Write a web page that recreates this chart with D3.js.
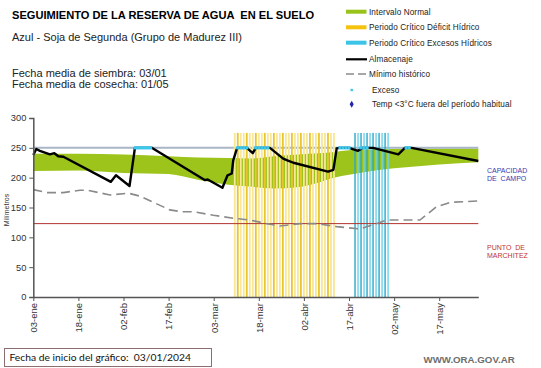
<!DOCTYPE html>
<html><head><meta charset="utf-8">
<script src="https://cdn.jsdelivr.net/npm/d3@7"></script>
<style>
body{margin:0;background:#fff;}
svg{display:block;font-family:"Liberation Sans",Arial,sans-serif;}
</style></head>
<body><svg id="c" width="541" height="368"></svg>
<script>
// ---- data (x = days since 03-ene-2024) ----
const xTickDays = [0,15,30,45,60,75,90,105,120,135];
const xTickLabels = ["03-ene","18-ene","02-feb","17-feb","03-mar","18-mar","02-abr","17-abr","02-may","17-may"];
const yTicks = [0,50,100,150,200,250,300];

const almDays = [0,1,2.2,5.5,7,8.3,10,25.8,27.5,32,33.8,39.4,57,58,62.9,64.6,66,66.5,67.6,68,71,73,74,78.7,83.1,84.5,86.5,98,99.8,100.9,101.8,105,108,109.7,113,121.4,123.6,125.8,148];
const almVals = [238,248,245,239,241,236,235,193,204,186,250,250,196,197,183,204,207,229,247,250,250,241,250,250,232,229,225,210,213,249,250,250,245,250,250,239,250,250,228];

const bandDays = [0,15,30,45,55,65,72,80,88,95,100,105,115,125,135,148];
const bandLow  = [211,212,208,206,196,188,185,182,184,192,200,205,213,218,222,226];
const bandHigh = [240,240,239,236,234,233,232,236,239,241,243,246,248,249,249,249];

const minDays = [0,4.5,10,15.5,18,25.5,31.6,35.5,45.4,49.3,53.2,59.9,66.5,72,77.6,82,88.7,94.2,100.9,108.6,113,117.5,128.6,134,138.6,148];
const minVals = [180,175,175,179,179,171,174,169,146,143,143,137,132,129,123,119,123,123,118,114,121,129,129,151,158.6,161];

const excessDays = [34,35,36,37,38,39,68,69,70,71,74,75,76,77,78,102,103,104,105,109,110,111,124,125];
const excessVals = [250,250,250,250,250,250,250,250,250,250,250,250,250,250,250,250,250,250,250,250,250,250,250,250];

const deficitDays = [67,68,69,70,71,72,73,74,75,76,77,78,79,80,81,82,83,84,85,86,87,88,89,90,91,92,93,94,95,96,97,98,99,100];
const deficitVals = [275,275,275,275,275,275,275,275,275,275,275,275,275,275,275,275,275,275,275,275,275,275,275,275,275,275,275,275,275,275,275,275,275,275];
const wetDays = [107,108,109,110,111,112,113,114,115,116,117,118];
const wetVals = [275,275,275,275,275,275,275,275,275,275,275,275];

const capacidad = 250;
const marchitez = 123;

const legendItems = ["Intervalo Normal","Periodo Crítico Déficit Hídrico","Periodo Crítico Excesos Hídricos","Almacenaje","Mínimo histórico","Exceso","Temp <3°C fuera del período habitual"];

// ---- drawing ----
const svg = d3.select("#c");
const x = d3.scaleLinear().domain([0,148]).range([33.3,478.3]);
const y = d3.scaleLinear().domain([0,300]).range([297,118]);

// green band
svg.append("path")
  .datum(bandDays.map((d,i)=>({d, lo:bandLow[i], hi:bandHigh[i]})))
  .attr("fill","#9cc41a")
  .attr("d", d3.area().x(p=>x(p.d)).y0(p=>y(p.lo)).y1(p=>y(p.hi)).curve(d3.curveMonotoneX));

// capacity line
svg.append("line").attr("x1",x(0)).attr("x2",x(148)).attr("y1",y(capacidad)).attr("y2",y(capacidad))
  .attr("stroke","#a9b6c6").attr("stroke-width",2);

// critical period stripes
svg.append("g").selectAll("rect").data(deficitDays).join("rect")
  .attr("x",(d)=>x(d)-0.9).attr("width",1.8)
  .attr("y",(d,i)=>y(deficitVals[i])).attr("height",(d,i)=>y(0)-y(deficitVals[i]))
  .attr("fill",(d,i)=> i%3===1 ? "#ebc52e" : "#f7e796");
svg.append("g").selectAll("rect").data(wetDays).join("rect")
  .attr("x",(d)=>x(d)-0.7).attr("width",1.4)
  .attr("y",(d,i)=>y(wetVals[i])).attr("height",(d,i)=>y(0)-y(wetVals[i]))
  .attr("fill",(d,i)=> i%2===0 ? "#27aacb" : "#6fd2ea");

// wilting point line
svg.append("line").attr("x1",x(0)).attr("x2",x(148)).attr("y1",y(marchitez)).attr("y2",y(marchitez))
  .attr("stroke","#b0332e").attr("stroke-width",1);

// minimum historic dashed
svg.append("path").datum(minDays.map((d,i)=>[d,minVals[i]]))
  .attr("fill","none").attr("stroke","#8a8a8a").attr("stroke-width",1.6).attr("stroke-dasharray","9,5")
  .attr("d", d3.line().x(p=>x(p[0])).y(p=>y(p[1])));

// almacenaje
svg.append("path").datum(almDays.map((d,i)=>[d,almVals[i]]))
  .attr("fill","none").attr("stroke","#000").attr("stroke-width",2.4).attr("stroke-linejoin","round")
  .attr("d", d3.line().x(p=>x(p[0])).y(p=>y(p[1])));

// exceso markers
svg.append("g").selectAll("rect").data(excessDays).join("rect")
  .attr("x",d=>x(d)-1.6).attr("y",(d,i)=>y(excessVals[i])-1.6).attr("width",3.2).attr("height",3.2)
  .attr("fill","#3cc8ec");

// axes
const yAx = svg.append("g").attr("transform",`translate(${x(0)},0)`)
  .call(d3.axisLeft(y).tickValues(yTicks).tickSize(4).tickPadding(3));
yAx.select(".domain").attr("stroke","#555").attr("stroke-width",1.5);
yAx.selectAll(".tick line").attr("stroke","#555");
yAx.selectAll("text").attr("fill","#333").style("font-size","9.3px").style("font-family","Liberation Sans, Arial");

const xAx = svg.append("g").attr("transform",`translate(0,${y(0)})`)
  .call(d3.axisBottom(x).tickValues(xTickDays).tickFormat((d,i)=>xTickLabels[i]).tickSize(4).tickSizeOuter(0));
xAx.select(".domain").attr("stroke","#555").attr("stroke-width",1.5);
xAx.selectAll(".tick line").attr("stroke","#555");
xAx.selectAll("text").attr("fill","#333").style("font-size","9.5px").style("font-family","Liberation Sans, Arial")
  .attr("transform","rotate(-90)").attr("x",-6).attr("y",0).attr("dy","0.35em").style("text-anchor","end");

svg.append("text").attr("transform","translate(9,210) rotate(-90)").attr("text-anchor","middle")
  .style("font-size","7px").attr("fill","#333").text("Milímetros");

// titles
svg.append("text").attr("x",12).attr("y",18.5).style("font-size","11.1px").style("font-weight","bold").attr("fill","#000")
  .attr("xml:space","preserve").text("SEGUIMIENTO DE LA RESERVA DE AGUA  EN EL SUELO");
svg.append("text").attr("x",12).attr("y",41).style("font-size","11px").attr("fill","#222")
  .text("Azul - Soja de Segunda (Grupo de Madurez III)");
svg.append("text").attr("x",12).attr("y",77).style("font-size","11px").attr("fill","#222").text("Fecha media de siembra: 03/01");
svg.append("text").attr("x",12).attr("y",88).style("font-size","11px").attr("fill","#222").text("Fecha media de cosecha: 01/05");

// legend
const lg = svg.append("g");
const ly = [11.7,27.3,42.7,59.3,74,90,104.3];
const swColors = ["#99c31a","#f5c20d","#3cc4e8"];
legendItems.forEach((t,i)=>{
  const yy = ly[i];
  if(i<3){ lg.append("rect").attr("x",346).attr("y",yy-2).attr("width",20.5).attr("height",4).attr("fill",swColors[i]); }
  else if(i===3){ lg.append("line").attr("x1",346).attr("x2",367).attr("y1",yy).attr("y2",yy).attr("stroke","#000").attr("stroke-width",2.2); }
  else if(i===4){ lg.append("line").attr("x1",346).attr("x2",368).attr("y1",yy).attr("y2",yy).attr("stroke","#8a8a8a").attr("stroke-width",1.6).attr("stroke-dasharray","8,4"); }
  else if(i===5){ lg.append("rect").attr("x",350.5).attr("y",yy-1.2).attr("width",2.4).attr("height",2.4).attr("fill","#3cc8ec"); }
  else { lg.append("path").attr("d",d3.symbol(d3.symbolDiamond,14)()).attr("transform",`translate(351.7,${yy})`).attr("fill","#2222aa"); }
  lg.append("text").attr("x", i<5 ? 369 : 372).attr("y",yy).attr("dy","0.35em")
    .style("font-size","8.2px").style("letter-spacing","0.1px").attr("fill","#222").text(t);
});

// side labels
svg.append("text").attr("x",487).attr("y",172.7).style("font-size","7px").attr("fill","#3a3ab0").text("CAPACIDAD");
svg.append("text").attr("x",487).attr("y",180.7).style("font-size","7px").attr("fill","#3a3ab0").attr("xml:space","preserve").text("DE  CAMPO");
svg.append("text").attr("x",487).attr("y",249.5).style("font-size","7px").attr("fill","#c0352f").attr("xml:space","preserve").text("PUNTO  DE");
svg.append("text").attr("x",487).attr("y",257.5).style("font-size","7px").attr("fill","#c0352f").text("MARCHITEZ");

// bottom box
svg.append("rect").attr("x",4.5).attr("y",348.5).attr("width",207).attr("height",18).attr("fill","#fff").attr("stroke","#8c6e6e").attr("stroke-width",1);
svg.append("text").attr("x",9.5).attr("y",361).style("font-size","10.3px").style("font-family","Lato, 'Open Sans', sans-serif").attr("fill","#111")
  .attr("xml:space","preserve").text("Fecha de inicio del gráfico:  03/01/2024");
svg.append("text").attr("x",423.5).attr("y",363).style("font-size","9.7px").style("font-weight","bold").attr("fill","#6e6e6e").text("WWW.ORA.GOV.AR");
</script></body></html>
